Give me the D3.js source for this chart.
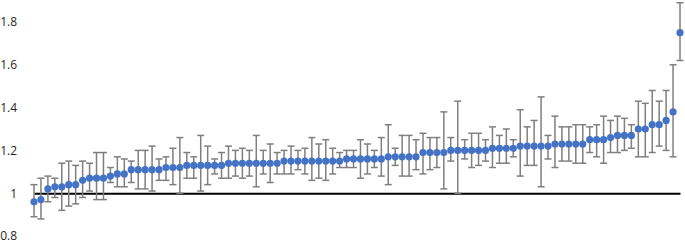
<!DOCTYPE html>
<html lang="en">
<head>
  <meta charset="UTF-8">
  <title>Ratios with confidence intervals</title>
  <style>
    body { margin: 0; background: #fff; }
    svg  { display: block; }
    .ytick text { font-family: "Open Sans", sans-serif; font-size: 12px; fill: #262626; }
    .err  { stroke: #7f7f7f; stroke-width: 1.5px; }
    .dot  { fill: #4472c4; }
    .base path { stroke: #000; stroke-width: 2px; }
  </style>
</head>
<body>
  <svg id="chart" width="685" height="244"></svg>

  <script src="https://d3js.org/d3.v7.min.js"></script>
  <script>
    /* ---------- data ---------- */
    const values = [
      0.96,0.97,1.02,1.03,1.03,1.04,1.04,1.06,1.07,1.07,1.07,1.08,1.09,1.09,1.11,
      1.11,1.11,1.11,1.11,1.12,1.12,1.12,1.13,1.13,1.13,1.13,1.13,1.13,1.14,1.14,
      1.14,1.14,1.14,1.14,1.14,1.14,1.15,1.15,1.15,1.15,1.15,1.15,1.15,1.15,1.15,
      1.16,1.16,1.16,1.16,1.16,1.16,1.17,1.17,1.17,1.17,1.17,1.19,1.19,1.19,1.19,
      1.20,1.20,1.20,1.20,1.20,1.20,1.21,1.21,1.21,1.21,1.22,1.22,1.22,1.22,1.22,
      1.23,1.23,1.23,1.23,1.23,1.25,1.25,1.25,1.26,1.27,1.27,1.27,1.30,1.30,1.32,
      1.32,1.34,1.38,1.75
    ];
    const upper = [
      1.04,1.07,1.08,1.07,1.14,1.15,1.13,1.15,1.14,1.19,1.19,1.12,1.17,1.16,1.15,
      1.20,1.20,1.22,1.16,1.17,1.21,1.26,1.19,1.17,1.27,1.22,1.16,1.19,1.22,1.20,
      1.21,1.20,1.27,1.20,1.23,1.19,1.20,1.22,1.20,1.21,1.26,1.23,1.25,1.21,1.19,
      1.20,1.20,1.25,1.23,1.20,1.26,1.32,1.21,1.27,1.27,1.25,1.28,1.26,1.26,1.38,
      1.26,1.43,1.25,1.28,1.28,1.25,1.31,1.27,1.30,1.25,1.39,1.31,1.34,1.45,1.27,
      1.36,1.31,1.31,1.32,1.32,1.31,1.32,1.36,1.34,1.36,1.35,1.32,1.43,1.42,1.48,
      1.43,1.48,1.60,1.89
    ];
    const lower = [
      0.89,0.88,0.96,0.98,0.92,0.94,0.95,0.98,1.01,0.97,0.97,1.05,1.03,1.03,1.05,
      1.02,1.02,1.01,1.06,1.06,1.04,1.00,1.07,1.07,1.01,1.04,1.09,1.07,1.07,1.08,
      1.07,1.08,1.03,1.09,1.05,1.09,1.09,1.09,1.11,1.09,1.06,1.07,1.06,1.09,1.12,
      1.12,1.12,1.07,1.09,1.12,1.08,1.04,1.13,1.08,1.08,1.11,1.09,1.11,1.12,1.02,
      1.15,1.00,1.16,1.12,1.13,1.15,1.12,1.14,1.14,1.17,1.08,1.13,1.13,1.03,1.16,
      1.12,1.15,1.15,1.14,1.14,1.19,1.17,1.14,1.19,1.19,1.20,1.21,1.17,1.17,1.19,
      1.22,1.20,1.17,1.62
    ];
    const yTicks = [0.8, 1, 1.2, 1.4, 1.6, 1.8];
    const yTickLabels = ['0.8', '1', '1.2', '1.4', '1.6', '1.8'];

    const data = values.map((v, i) => ({ idx: i + 1, v, lo: lower[i], hi: upper[i] }));

    /* ---------- scales ---------- */
    const x = d3.scaleLinear().domain([1, values.length]).range([34, 680]);
    const y = d3.scaleLinear().domain([0.8, 1.8]).range([236, 22]);

    const svg = d3.select('#chart');

    // y labels
    svg.append('g')
       .attr('class', 'ytick')
       .attr('transform', 'translate(20,0)')
       .call(d3.axisLeft(y).tickValues(yTicks)
               .tickFormat((d, i) => yTickLabels[i])
               .tickSize(0).tickPadding(3))
       .call(g => g.select('.domain').remove());

    // horizontal line at 1
    svg.append('g')
       .attr('class', 'base')
       .attr('transform', `translate(0,${y(1)})`)
       .call(d3.axisBottom(x).tickValues([]).tickSizeOuter(0));

    // error bars
    const capW = 3.5;
    const eb = svg.append('g');
    eb.selectAll('line.stem')
      .data(data).enter().append('line')
      .attr('class', 'err')
      .attr('x1', d => x(d.idx)).attr('x2', d => x(d.idx))
      .attr('y1', d => y(d.hi)).attr('y2', d => y(d.lo));
    eb.selectAll('line.capHi')
      .data(data).enter().append('line')
      .attr('class', 'err')
      .attr('x1', d => x(d.idx) - capW).attr('x2', d => x(d.idx) + capW)
      .attr('y1', d => y(d.hi)).attr('y2', d => y(d.hi));
    eb.selectAll('line.capLo')
      .data(data).enter().append('line')
      .attr('class', 'err')
      .attr('x1', d => x(d.idx) - capW).attr('x2', d => x(d.idx) + capW)
      .attr('y1', d => y(d.lo)).attr('y2', d => y(d.lo));

    // markers
    svg.append('g').selectAll('circle')
       .data(data).enter().append('circle')
       .attr('class', 'dot')
       .attr('cx', d => x(d.idx))
       .attr('cy', d => y(d.v))
       .attr('r', 3.6);
  </script>
</body>
</html>
